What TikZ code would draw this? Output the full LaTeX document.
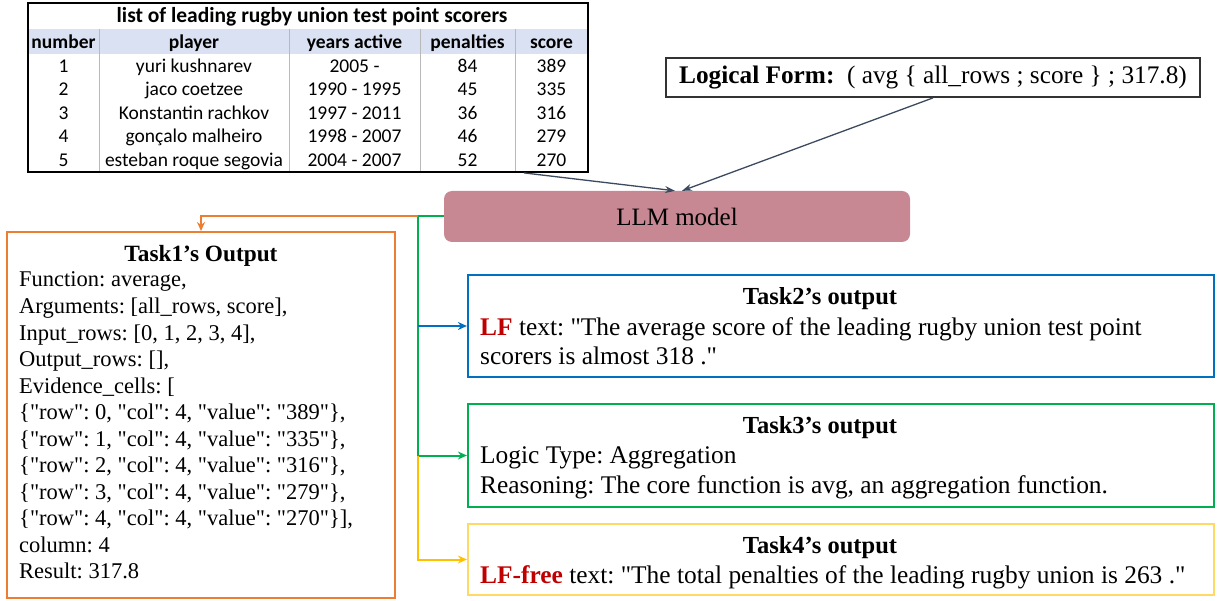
\documentclass[tikz,border=0pt]{standalone}
\usepackage{fontspec}
\setmainfont{LiberationSerif}[Extension=.ttf,UprightFont=*-Regular,BoldFont=*-Bold,ItalicFont=*-Italic,BoldItalicFont=*-BoldItalic,Ligatures=TeXOff]
\newfontfamily\tabfont{Carlito}
\usetikzlibrary{arrows.meta,calc}
\definecolor{orng}{HTML}{ED7D31}
\definecolor{grn}{HTML}{00B050}
\definecolor{blu}{HTML}{0070C0}
\definecolor{ylw}{HTML}{FFC000}
\definecolor{ylwb}{HTML}{FFD966}
\definecolor{lfred}{HTML}{C00000}
\definecolor{llmfill}{RGB}{199,136,148}
\definecolor{slate}{HTML}{3B4A5E}
\definecolor{hdr}{HTML}{D9E1F2}
\frenchspacing
\begin{document}
\begin{tikzpicture}[x=1pt,y=-1pt,
  tabtxt/.style={font=\tabfont\fontsize{19.5}{22}\selectfont,anchor=base,inner sep=0pt},
  tabhdr/.style={font=\tabfont\bfseries\fontsize{19.5}{22}\selectfont,anchor=base,inner sep=0pt},
  bigtxt/.style={font=\fontsize{25.4}{29}\selectfont,anchor=base west,inner sep=0pt},
  bigttl/.style={font=\bfseries\fontsize{24.5}{29}\selectfont,anchor=base,inner sep=0pt},
  smtxt/.style={font=\fontsize{22.5}{26}\selectfont,anchor=base west,inner sep=0pt},
  smttl/.style={font=\bfseries\fontsize{23.3}{26}\selectfont,anchor=base,inner sep=0pt},
  tip/.style={-{Stealth[length=9pt,width=8pt]}},
  slatearrow/.style={draw=slate,line width=1.3pt,-{Stealth[length=10pt,width=7pt]}}
]
\useasboundingbox (0,0) rectangle (1217,601);
% ---------- table ----------
\fill[hdr] (28,29) rectangle (588,54);
\foreach \xx in {99,289,420,515}{
  \draw[gray!55,line width=0.8pt] (\xx,29) -- (\xx,172);
}
\node[draw=black,line width=1.8pt,minimum width=560pt,minimum height=169pt,inner sep=0pt] (tab) at (308,87.5) {};
\node[font=\tabfont\bfseries\fontsize{21.5}{24}\selectfont,anchor=base,inner sep=0pt] (tabtitle) at (312,23) {list of leading rugby union test point scorers};
\node[tabhdr] (h1) at (63.5,48.5) {number};
\node[tabhdr] (h2) at (194,48.5) {player};
\node[tabhdr] (h3) at (354.5,48.5) {years active};
\node[tabhdr] (h4) at (467.5,48.5) {penalties};
\node[tabhdr] (h5) at (551.5,48.5) {score};
\foreach \n/\pl/\yr/\pe/\sc in {1/yuri kushnarev/2005 -/84/389,
  2/jaco coetzee/1990 - 1995/45/335,
  3/Konstantin rachkov/1997 - 2011/36/316,
  4/gonçalo malheiro/1998 - 2007/46/279,
  5/esteban roque segovia/2004 - 2007/52/270}{
  \pgfmathsetmacro{\yy}{72.5+(\n-1)*23.5}
  \node[tabtxt] (r\n a) at (63.5,\yy) {\n};
  \node[tabtxt] (r\n b) at (194,\yy) {\pl};
  \node[tabtxt] (r\n c) at (354.5,\yy) {\yr};
  \node[tabtxt] (r\n d) at (467.5,\yy) {\pe};
  \node[tabtxt] (r\n e) at (551.5,\yy) {\sc};
}
% ---------- logical form ----------
\node[draw=black!80,line width=1.8pt,minimum width=534pt,minimum height=39pt,inner sep=0pt,
  font=\fontsize{25.3}{29}\selectfont] (lf) at (933,77.5)
  {\textbf{Logical Form:}\ \ ( avg \{ all\_rows ; score \} ; 317.8)};
% ---------- LLM ----------
\node[fill=llmfill,rounded corners=8pt,minimum width=466pt,minimum height=51pt,inner sep=0pt,
  font=\fontsize{25}{29}\selectfont] (llm) at (677,216.5) {LLM model};
\coordinate (tabout) at ($(tab.south east)+(-65,0)$);
\draw[slatearrow] (tabout) -- ([xshift=-2pt]llm.north);
\draw[slatearrow] (lf.south) -- ([xshift=5pt]llm.north);
% ---------- task boxes ----------
\node[draw=orng,line width=2pt,minimum width=388pt,minimum height=366pt,inner sep=0pt] (t1) at (201,415) {};
\node[draw=blu,line width=2.2pt,minimum width=746pt,minimum height=102pt,inner sep=0pt] (t2) at (841,326) {};
\node[draw=grn,line width=2.2pt,minimum width=746pt,minimum height=103pt,inner sep=0pt] (t3) at (841,455.5) {};
\node[draw=ylwb,line width=2.2pt,minimum width=746pt,minimum height=71pt,inner sep=0pt] (t4) at (841,559.5) {};
% ---------- connectors ----------
\coordinate (j) at ($(llm.west)+(-26,0)$);
\draw[grn,line width=2pt,tip] (llm.west) -- (j) |- (t3.west);
\draw[blu,line width=1.5pt,tip] (j |- t2.west) -- (t2.west);
\draw[ylw,line width=2pt,tip] (j |- t3.west) |- (t4.west);
\draw[orng,line width=2pt,tip] (j) -| (t1.north);
% ---------- task1 text ----------
\node[smttl] (t1title) at (201,262) {Task1’s Output};
\foreach \k/\ln in {0/{Function: average,},
  1/{Arguments: [all\_rows, score],},
  2/{Input\_rows: [0, 1, 2, 3, 4],},
  3/{Output\_rows: [],},
  4/{Evidence\_cells: [},
  5/{\{"row": 0, "col": 4, "value": "389"\},},
  6/{\{"row": 1, "col": 4, "value": "335"\},},
  7/{\{"row": 2, "col": 4, "value": "316"\},},
  8/{\{"row": 3, "col": 4, "value": "279"\},},
  9/{\{"row": 4, "col": 4, "value": "270"\}],},
  10/{column: 4},
  11/{Result: 317.8}}{
  \pgfmathsetmacro{\yy}{287+\k*26.5}
  \node[smtxt] (t1l\k) at (19,\yy) {\ln};
}
% ---------- task2 text ----------
\node[bigttl] (t2title) at (820,305) {Task2’s output};
\node[bigtxt] (t2a) at (480,335) {\textcolor{lfred}{\textbf{LF}} text: "The average score of the leading rugby union test point};
\node[bigtxt] (t2b) at (480,364) {scorers is almost 318 ."};
% ---------- task3 text ----------
\node[bigttl] (t3title) at (820,433) {Task3’s output};
\node[bigtxt] (t3a) at (480,463) {Logic Type: Aggregation};
\node[bigtxt] (t3b) at (480,493) {Reasoning: The core function is avg, an aggregation function.};
% ---------- task4 text ----------
\node[bigttl] (t4title) at (820,553) {Task4’s output};
\node[bigtxt] (t4a) at (480,583) {\textcolor{lfred}{\textbf{LF-free}} text: "The total penalties of the leading rugby union is 263 ."};
\end{tikzpicture}
\end{document}
